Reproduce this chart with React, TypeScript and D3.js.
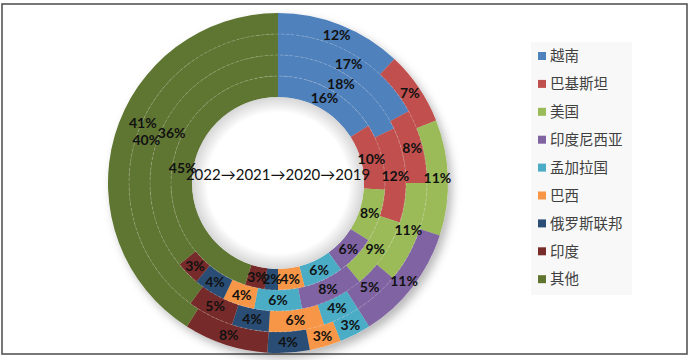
import React from "react";
import * as d3 from "d3";

const categories = ["越南", "巴基斯坦", "美国", "印度尼西亚", "孟加拉国", "巴西", "俄罗斯联邦", "印度", "其他"];
const colors = ["#4F81BD", "#C0504D", "#9BBB59", "#8064A2", "#4BACC6", "#F79646", "#2C4D75", "#772C2A", "#5F7530"];
// rings from outer to inner
const years = ["2022", "2021", "2020", "2019"];
const values2022 = [12, 7, 11, 11, 3, 3, 4, 8, 41];
const values2021 = [17, 8, 11, 5, 4, 6, 4, 5, 40];
const values2020 = [18, 12, 9, 8, 6, 4, 4, 3, 36];
const values2019 = [16, 10, 8, 6, 6, 4, 2, 3, 45];
const ringValues = [values2022, values2021, values2020, values2019];
const centerLabel = "2022→2021→2020→2019";

const W = 692, H = 360;
const cx = 278, cy = 183;
const rOuter = 170, rHole = 86;

export default function App() {
  const pie = d3.pie<number>().value((d) => d).sort(null);
  const radial = d3.scaleLinear().domain([0, ringValues.length]).range([rOuter, rHole]);

  const rings = ringValues.map((vals, ri) => {
    const outerR = radial(ri);
    const innerR = radial(ri + 1);
    const arc = d3.arc<d3.PieArcDatum<number>>().innerRadius(innerR).outerRadius(outerR);
    return { arcs: pie(vals), arc, innerR, outerR, ri, year: years[ri] };
  });

  const legendY0 = 56, legendStep = 27.9;

  return (
    <svg width={W} height={H} style={{ position: "absolute", left: 0, top: 0, background: "#fff" }}>
      <defs>
        <filter id="sh" x="-20%" y="-20%" width="150%" height="150%">
          <feDropShadow dx="4" dy="5" stdDeviation="5" floodColor="#000" floodOpacity="0.28" />
        </filter>
        <radialGradient id="hole" cx="0.5" cy="0.5" r="0.5">
          <stop offset="0.82" stopColor="#ffffff" />
          <stop offset="1" stopColor="#d6d6d6" />
        </radialGradient>
      </defs>
      <rect x={2} y={4} width={685} height={350} fill="#fff" stroke="#555" strokeWidth={1.6} />
      <g transform={`translate(${cx},${cy})`}>
        <g filter="url(#sh)">
          {rings.map((r) =>
            r.arcs.map((a, i) => (
              <path key={`${r.ri}-${i}`} d={r.arc(a)!} fill={colors[i]} />
            ))
          )}
        </g>
        <circle r={rHole} fill="url(#hole)" />
        {rings.slice(1).map((r) => (
          <circle key={`b${r.ri}`} r={r.outerR} fill="none" stroke="rgba(255,255,255,0.3)" strokeWidth={0.7} strokeDasharray="3,2" />
        ))}
        <text
          x={0}
          y={-3}
          textAnchor="middle"
          fontFamily="Lato, 'Noto Sans CJK SC', sans-serif"
          fontSize={15}
          fill="#111"
        >
          {centerLabel}
        </text>
        {rings.map((r) =>
          r.arcs.map((a, i) => {
            const [lx, ly] = r.arc.centroid(a);
            const nudge = r.ri === 0 && i === categories.length - 1 ? [18, -15] : [0, 0];
            return (
              <text
                key={`l${r.ri}-${i}`}
                x={lx + nudge[0]}
                y={ly + nudge[1]}
                dy="0.35em"
                textAnchor="middle"
                fontFamily="Lato, sans-serif"
                fontWeight="bold"
                fontSize={14}
                fill="#111"
              >
                {`${a.data}%`}
              </text>
            );
          })
        )}
      </g>
      <g>
        <rect x={531} y={42} width={101} height={253} fill="#f8f8f8" />
        {categories.map((c, i) => (
          <g key={c} transform={`translate(538,${legendY0 + i * legendStep})`}>
            <rect x={0} y={-4} width={8} height={8} fill={colors[i]} />
            <text
              x={12}
              y={0}
              dy="0.36em"
              fontFamily="'Noto Sans CJK SC', sans-serif"
              fontSize={14.5}
              fill="#404040"
            >
              {c}
            </text>
          </g>
        ))}
      </g>
    </svg>
  );
}
